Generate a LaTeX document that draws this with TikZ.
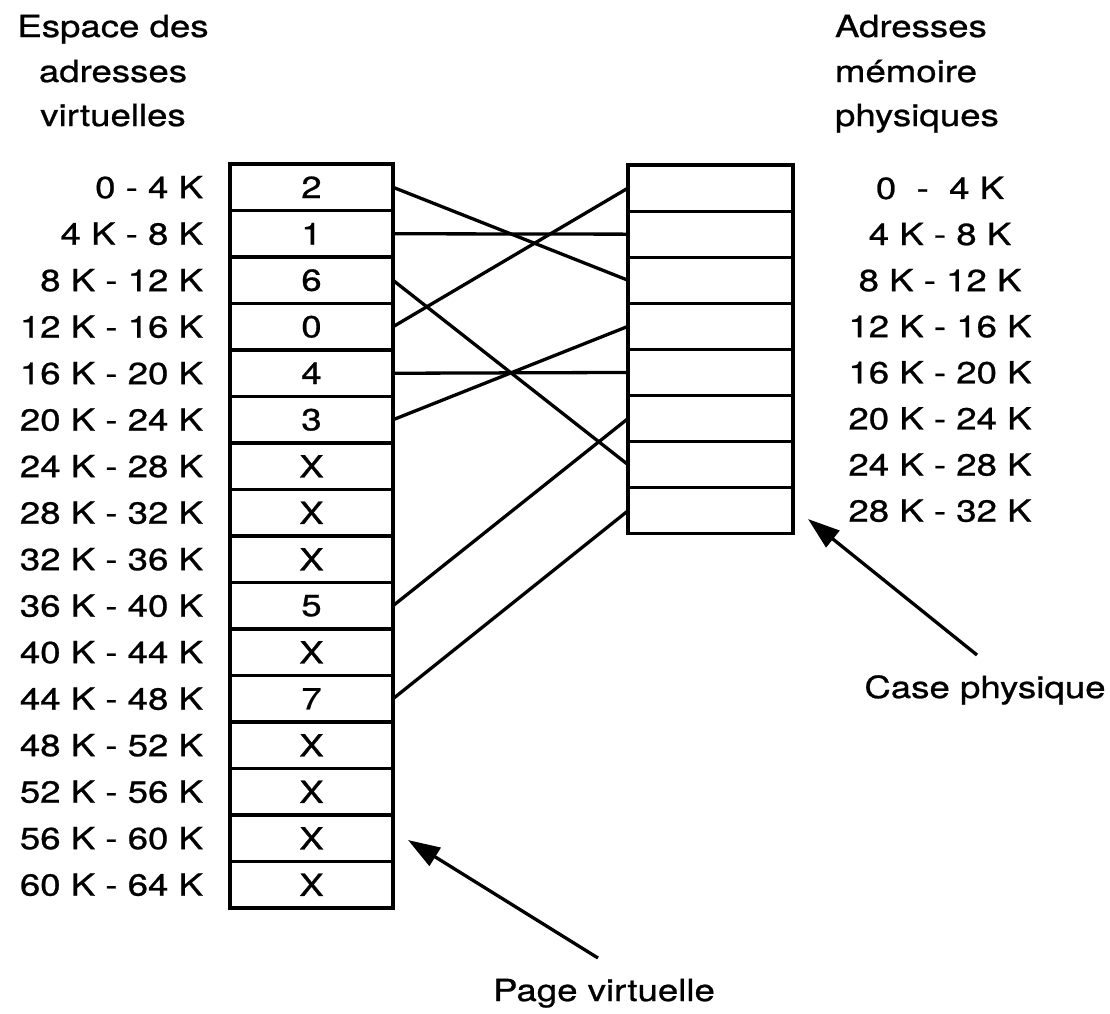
\documentclass[tikz,border=0pt]{standalone}
\usepackage{fontspec}
\setmainfont{TeX Gyre Heros}[FakeStretch=1.2,FakeBold=0.8]
\usetikzlibrary{arrows.meta}
\begin{document}
\begin{tikzpicture}[x=1pt,y=-1pt,
  every node/.style={font=\fontsize{30.5}{44}\selectfont, inner sep=0pt, outer sep=0pt},
  vcell/.style={draw, line width=3.1pt, minimum width=163pt, minimum height=46.5pt},
  pcell/.style={draw, line width=3.1pt, minimum width=165pt, minimum height=46.1pt},
  link/.style={line width=3.3pt},
  pointer/.style={line width=3.3pt, -{Triangle[length=32pt,width=21pt]}},
]
\useasboundingbox (0,0) rectangle (1110,1013);

% column headings
\node[anchor=base] (vt1) at (113,37)  {Espace des};
\node[anchor=base] (vt2) at (113,82)  {adresses};
\node[anchor=base] (vt3) at (113,126) {virtuelles};
\node[anchor=base west] (pt1) at (835,37)  {Adresses};
\node[anchor=base west] (pt2) at (835,82)  {mémoire};
\node[anchor=base west] (pt3) at (835,126) {physiques};

% virtual pages (page table entries)
\foreach \t [count=\i from 0] in {2,1,6,0,4,3,X,X,X,5,X,7,X,X,X,X}
  \node[vcell] (v\i) at (311.5,187.25+46.5*\i) {\t};

% virtual address ranges
\foreach \l [count=\i from 0] in {0 - 4 K,4 K - 8 K,8 K - 12 K,12 K - 16 K,
    16 K - 20 K,20 K - 24 K,24 K - 28 K,28 K - 32 K,32 K - 36 K,36 K - 40 K,
    40 K - 44 K,44 K - 48 K,48 K - 52 K,52 K - 56 K,56 K - 60 K,60 K - 64 K}
  \node[anchor=east] (vl\i) at (203,187.25+46.5*\i) {\l};

% physical frames
\foreach \j in {0,...,7}
  \node[pcell] (p\j) at (710.5,188.05+46.1*\j) {};

% physical address ranges
\foreach \l [count=\j from 0] in {{0\ \ -\ \ 4 K},4 K - 8 K,8 K - 12 K,12 K - 16 K,
    16 K - 20 K,20 K - 24 K,24 K - 28 K,28 K - 32 K}
  \node (pl\j) at (940,188.05+46.1*\j) {\l};

% mapping from virtual pages to frames
\draw[link] (v0.east)  -- (p2.west);
\draw[link] (v1.east)  -- (p1.west);
\draw[link] (v2.east)  -- (p6.west);
\draw[link] (v3.east)  -- (p0.west);
\draw[link] (v4.east)  -- (p4.west);
\draw[link] (v5.east)  -- (p3.west);
\draw[link] (v9.east)  -- (p5.west);
\draw[link] (v11.east) -- (p7.west);

% callouts
\node[anchor=base] (case) at (985,698) {Case physique};
\coordinate (casetail) at (977,655);
\coordinate (casetip)  at (808,519);
\draw[pointer] (casetail) -- (casetip);

\node[anchor=base] (page) at (604,1001) {Page virtuelle};
\coordinate (pagetail) at (598,958);
\coordinate (pagetip)  at (408,840);
\draw[pointer] (pagetail) -- (pagetip);
\end{tikzpicture}
\end{document}
